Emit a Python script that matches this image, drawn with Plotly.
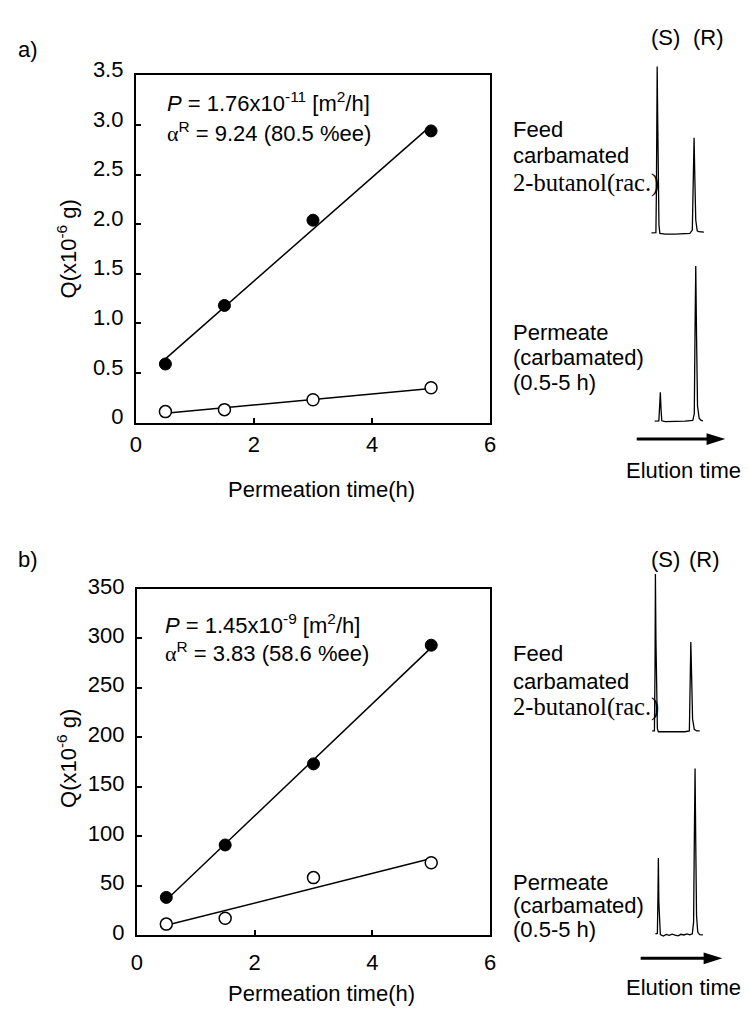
import numpy as np
import plotly.graph_objects as go

W, H = 748, 1015

# ---------------- data ----------------
perm_time = [0.5, 1.5, 3.0, 5.0]              # permeation time (h)
Q_a_filled = [0.59, 1.18, 2.04, 2.94]          # panel a, x10^-6 g
Q_a_open = [0.11, 0.13, 0.23, 0.35]
Q_b_filled = [38, 91, 173, 293]                # panel b, x10^-6 g
Q_b_open = [11, 17, 58, 73]

x_tickvals = [0, 2, 4, 6]
x_ticktext = ["0", "2", "4", "6"]
ya_tickvals = [0, 0.5, 1.0, 1.5, 2.0, 2.5, 3.0, 3.5]
ya_ticktext = ["0", "0.5", "1.0", "1.5", "2.0", "2.5", "3.0", "3.5"]
yb_tickvals = [0, 50, 100, 150, 200, 250, 300, 350]
yb_ticktext = ["0", "50", "100", "150", "200", "250", "300", "350"]

# chromatograms: elution time (a.u.) vs signal (% of tallest peak)
feed_a_t = [16.0, 20.5, 21.0, 21.5, 21.8, 22.3, 22.9, 23.6, 24.5, 30, 40, 50, 55, 57.5, 58.5, 59.3, 60.0, 61.0, 62.5, 64, 69.3]
feed_a_s = [0.3, 0.5, 25, 80, 100, 70, 30, 5, 0, -0.5, -0.5, -0.3, 0, 2, 40, 57.4, 35, 8, 1.5, 1.0, 0.8]
perm_a_t = [19.3, 23.5, 24.3, 25.0, 25.7, 26.5, 30, 40, 50, 58, 59.5, 60.3, 61.0, 61.8, 62.8, 64.5, 66.5, 68.3]
perm_a_s = [0.3, 0.5, 10, 18.8, 8, 0.5, 0, 0, 0.3, 0.8, 5, 60, 100, 55, 10, 2, 0.8, 0.5]
feed_b_t = [16.7, 19.0, 19.6, 20.0, 20.5, 21.2, 22.0, 23, 30, 40, 50, 54.5, 55.3, 56.0, 56.8, 57.8, 59.5, 62, 65]
feed_b_s = [0.5, 0.5, 40, 100, 60, 15, 2, 0, 0, 0, 0, 0.5, 30, 56.9, 35, 8, 1.5, 0.5, 0.5]
perm_b_t = [20, 22.0, 22.6, 23.0, 23.5, 24.2, 25, 28, 31, 34, 37, 40, 43, 46, 49, 52, 55, 57.5, 58.8, 59.6, 60.3, 61.0, 61.8, 63, 65, 68.3]
perm_b_s = [1.0, 1.2, 25, 46.3, 20, 3, 0.5, -0.3, 0.6, 0.1, 0.8, 0.2, -0.2, 0.7, 0.3, 0.9, 0.4, 1.0, 8, 60, 100, 55, 12, 2, 0.5, 0.3]

# ---------------- helpers ----------------
def px(x):
    return x / W

def py(y):
    return 1 - y / H

FONT = "Liberation Sans, Arial, sans-serif"
SERIF = "Liberation Serif, Times New Roman, serif"
FS = 22

fig = go.Figure()

def fit_line(x, y):
    m, c = np.polyfit(x, y, 1)
    xs = np.array([x[0], x[-1]])
    return xs, m * xs + c

def add_panel(xa, ya, yf, yo):
    for yy in (yf, yo):
        lx, ly = fit_line(perm_time, yy)
        fig.add_trace(go.Scatter(x=lx, y=ly, mode="lines", xaxis=xa, yaxis=ya,
                                 line=dict(color="black", width=1.5), hoverinfo="skip"))
    fig.add_trace(go.Scatter(x=perm_time, y=yf, mode="markers", xaxis=xa, yaxis=ya,
                             marker=dict(size=12, color="black", line=dict(color="black", width=1))))
    fig.add_trace(go.Scatter(x=perm_time, y=yo, mode="markers", xaxis=xa, yaxis=ya,
                             marker=dict(size=12, color="white", line=dict(color="black", width=1.5))))

add_panel("x", "y", Q_a_filled, Q_a_open)
add_panel("x2", "y2", Q_b_filled, Q_b_open)

chroms = [
    ("x3", "y3", feed_a_t, feed_a_s, 221.5, 50),
    ("x4", "y4", perm_a_t, perm_a_s, 415, 255),
    ("x5", "y5", feed_b_t, feed_b_s, 734, 571.7),
    ("x6", "y6", perm_b_t, perm_b_s, 943.5, 771.7),
]
for xa, ya, t, s, *_ in chroms:
    fig.add_trace(go.Scatter(x=t, y=s, mode="lines", xaxis=xa, yaxis=ya,
                             line=dict(color="black", width=1.3), hoverinfo="skip"))

axis_common = dict(showgrid=False, zeroline=False, showline=True, linecolor="black",
                   linewidth=2, mirror=True, ticks="inside", ticklen=5, tickwidth=2,
                   tickcolor="black", tickfont=dict(family=FONT, size=FS, color="black"))

layout = dict(
    width=W, height=H, margin=dict(l=0, r=0, t=0, b=0),
    paper_bgcolor="white", plot_bgcolor="white", showlegend=False,
    xaxis=dict(domain=[px(132), px(492)], range=[0, 6], anchor="y",
               tickvals=x_tickvals, ticktext=x_ticktext, ticklabelstandoff=1, **axis_common),
    yaxis=dict(domain=[py(416), py(59)], range=[0, 3.5], anchor="x",
               tickvals=ya_tickvals, ticktext=ya_ticktext, ticklabelstandoff=6,
               ticklabelshift=-6, **axis_common),
    xaxis2=dict(domain=[px(133), px(492)], range=[0, 6], anchor="y2",
                tickvals=x_tickvals, ticktext=x_ticktext, ticklabelstandoff=7, **axis_common),
    yaxis2=dict(domain=[py(943), py(587)], range=[0, 350], anchor="x2",
                tickvals=yb_tickvals, ticktext=yb_ticktext, ticklabelstandoff=6,
                ticklabelshift=-3, **axis_common),
)
for i, (xa, ya, t, s, base, top) in enumerate(chroms):
    n = i + 3
    k = (base - top) / 100.0
    layout[f"xaxis{n}"] = dict(domain=[px(640), px(740)], range=[0, 100], visible=False,
                               anchor=f"y{n}")
    layout[f"yaxis{n}"] = dict(domain=[py(base + 5 * k), py(top - 5 * k)], range=[-5, 105],
                               visible=False, anchor=f"x{n}")
fig.update_layout(**layout)

ann = []
def text(x, y, s, xanchor="left", size=FS, family=FONT, angle=0):
    ann.append(dict(x=px(x), y=py(y), xref="paper", yref="paper", text=s, showarrow=False,
                    xanchor=xanchor, yanchor="middle", textangle=angle,
                    font=dict(family=family, size=size, color="black")))

alpha = '<span style="font-family:Liberation Serif">α</span>'
# panel a
text(10, 32, "a)")
text(162, 86, "<i>P</i> = 1.76x10<sup>-11</sup> [m<sup>2</sup>/h]")
text(162, 117, alpha + "<sup>R</sup> = 9.24 (80.5 %ee)")
text(62, 238, "Q(x10<sup>-6</sup> g)", xanchor="center", angle=-90)
text(321, 485, "Permeation time(h)", xanchor="center")
text(670, 20, "(S)", xanchor="center")
text(714, 20, "(R)", xanchor="center")
text(513, 115, "Feed")
text(513, 141, "carbamated")
text(513, 170, "2-butanol(rac.)", family=SERIF, size=24.5)
text(513, 323, "Permeate")
text(513, 349, "(carbamated)")
text(513, 375, "(0.5-5 h)")
text(689, 465, "Elution time", xanchor="center")
# panel b
text(10, 557, "b)")
text(160, 623, "<i>P</i> = 1.45x10<sup>-9</sup> [m<sup>2</sup>/h]")
text(160, 652, alpha + "<sup>R</sup> = 3.83 (58.6 %ee)")
text(62, 762, "Q(x10<sup>-6</sup> g)", xanchor="center", angle=-90)
text(321, 1003, "Permeation time(h)", xanchor="center")
text(670, 557, "(S)", xanchor="center")
text(710, 557, "(R)", xanchor="center")
text(513, 654, "Feed")
text(513, 682, "carbamated")
text(513, 709, "2-butanol(rac.)", family=SERIF, size=24.5)
text(513, 889, "Permeate")
text(513, 913, "(carbamated)")
text(513, 937, "(0.5-5 h)")
text(689, 997, "Elution time", xanchor="center")

shapes = []
def arrow(x0, x1, y):
    shapes.append(dict(type="line", xref="paper", yref="paper", x0=px(x0), x1=px(x1 - 14),
                       y0=py(y), y1=py(y), line=dict(color="black", width=3)))
    shapes.append(dict(type="path", xref="paper", yref="paper", fillcolor="black",
                       line=dict(color="black", width=0),
                       path=f"M {px(x1)} {py(y)} L {px(x1 - 19)} {py(y - 6)} L {px(x1 - 19)} {py(y + 6)} Z"))
arrow(641, 731, 433)
arrow(645, 728, 967)

fig.update_layout(annotations=ann, shapes=shapes)
fig.write_html("out.html")
